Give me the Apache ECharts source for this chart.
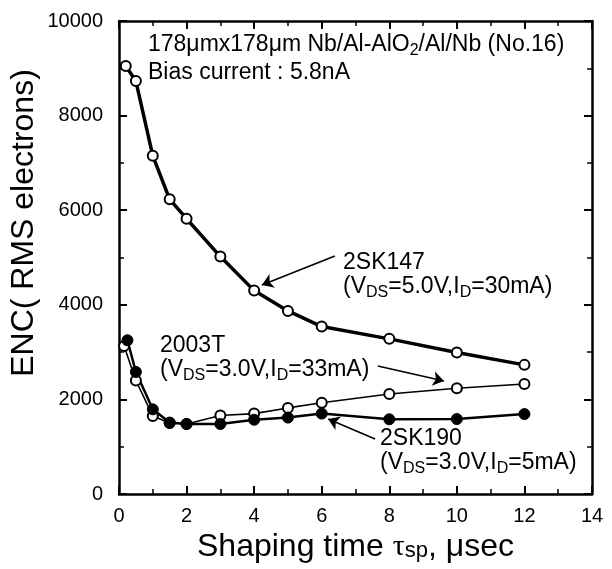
<!DOCTYPE html>
<html><head><meta charset="utf-8">
<script src="https://cdn.jsdelivr.net/npm/echarts@6/dist/echarts.min.js"></script>
<style>html,body{margin:0;padding:0;background:#fff}#c{width:612px;height:569px}</style>
</head><body><div id="c"></div>
<script>
// ---- data ----
const time2SK147 = [0.2, 0.5, 1, 1.5, 2, 3, 4, 5, 6, 8, 10, 12];
const enc2SK147  = [9050, 8730, 7150, 6230, 5820, 5020, 4300, 3870, 3540, 3280, 2990, 2730];
const time2003T  = [0.15, 0.5, 1, 1.5, 2, 3, 4, 5, 6, 8, 10, 12];
const enc2003T   = [3130, 2400, 1650, 1500, 1480, 1660, 1700, 1820, 1930, 2115, 2235, 2325];
const time2SK190 = [0.25, 0.5, 1, 1.5, 2, 3, 4, 5, 6, 8, 10, 12];
const enc2SK190  = [3250, 2580, 1790, 1510, 1480, 1480, 1570, 1615, 1700, 1580, 1585, 1690];
const xRange = [0, 14, 2];      // min, max, interval
const yRange = [0, 10000, 2000];

const FONT = "'Liberation Sans', Arial, Helvetica, sans-serif";
const pairs = (xs, ys) => xs.map((x, i) => [x, ys[i]]);

const chart = echarts.init(document.getElementById('c'), null, {renderer: 'canvas'});

function axisCommon(showLabel, margin) {
  return {
    axisLine: {show: true, onZero: false, lineStyle: {color: '#000', width: 2.5}},
    axisTick: {show: true, inside: true, length: 8, lineStyle: {color: '#000', width: 2}},
    minorTick: {show: true, splitNumber: 2, length: 5, lineStyle: {color: '#000', width: 1.5}},
    splitLine: {show: false},
    axisLabel: {show: showLabel, color: '#000', fontSize: 20, fontFamily: FONT, margin: margin || 8,
                formatter: v => String(v)}
  };
}

const arrowLine = (from, to) => ({
  silent: true, animation: false,
  symbol: ['none', 'arrow'], symbolSize: 11,
  label: {show: false},
  lineStyle: {color: '#000', width: 1.6, type: 'solid'},
  emphasis: {disabled: true},
  data: [[{coord: from}, {coord: to}]]
});

const rich = {
  n: {fontSize: 23, fontFamily: FONT, color: '#000'},
  s: {fontSize: 16, fontFamily: FONT, color: '#000', padding: [12, 0, 0, 0]}
};
const txt = (x, y, text) => ({
  type: 'text', x: x, y: y, silent: true,
  style: {text: text, rich: rich, fill: '#000', font: '23px ' + FONT,
          align: 'left', verticalAlign: 'middle', textAlign: 'left', textVerticalAlign: 'middle'}
});

chart.setOption({
  animation: false,
  backgroundColor: '#fff',
  grid: {left: 119, right: 20, top: 21, bottom: 75, containLabel: false},
  xAxis: [
    Object.assign({type: 'value', min: xRange[0], max: xRange[1], interval: xRange[2], position: 'bottom',
      name: 'Shaping time {t|τ}{s|sp}, μsec', nameLocation: 'middle', nameGap: 36,
      nameTextStyle: {color: '#000', fontSize: 32, fontFamily: FONT,
        rich: {t: {fontSize: 30, fontFamily: "'Liberation Serif', serif", color: '#000'},
               s: {fontSize: 22, fontFamily: FONT, color: '#000', padding: [8, 0, 0, 0]}}}
    }, axisCommon(true, 12)),
    Object.assign({type: 'value', min: xRange[0], max: xRange[1], interval: xRange[2], position: 'top'}, axisCommon(false))
  ],
  yAxis: [
    Object.assign({type: 'value', min: yRange[0], max: yRange[1], interval: yRange[2], position: 'left'},
      axisCommon(true, 16)),
    Object.assign({type: 'value', min: yRange[0], max: yRange[1], interval: yRange[2], position: 'right'}, axisCommon(false))
  ],
  series: [
    {name: '2SK147', type: 'line', data: pairs(time2SK147, enc2SK147),
     lineStyle: {color: '#000', width: 3.5}, symbol: 'circle', symbolSize: 10,
     itemStyle: {color: '#fff', borderColor: '#000', borderWidth: 2},
     markLine: arrowLine([6.39, 5032], [4.23, 4419])},
    {name: '2003T', type: 'line', data: pairs(time2003T, enc2003T),
     lineStyle: {color: '#000', width: 1.6}, symbol: 'circle', symbolSize: 10,
     itemStyle: {color: '#fff', borderColor: '#000', borderWidth: 2},
     markLine: arrowLine([7.66, 2706], [9.62, 2389])},
    {name: '2SK190', type: 'line', data: pairs(time2SK190, enc2SK190),
     lineStyle: {color: '#000', width: 2.5}, symbol: 'circle', symbolSize: 11,
     itemStyle: {color: '#000', borderColor: '#000', borderWidth: 1},
     markLine: arrowLine([7.58, 1163], [6.19, 1586])}
  ],
  graphic: [
    txt(148, 45, '{n|178μmx178μm Nb/Al-AlO}{s|2}{n|/Al/Nb (No.16)}'),
    txt(148, 73, '{n|Bias current : 5.8nA}'),
    txt(343, 263, '{n|2SK147}'),
    txt(343, 287, '{n|(V}{s|DS}{n|=5.0V,I}{s|D}{n|=30mA)}'),
    txt(160, 346, '{n|2003T}'),
    txt(160, 370, '{n|(V}{s|DS}{n|=3.0V,I}{s|D}{n|=33mA)}'),
    txt(380, 439, '{n|2SK190}'),
    txt(380, 463, '{n|(V}{s|DS}{n|=3.0V,I}{s|D}{n|=5mA)}'),
    {type: 'text', x: 24, y: 223, rotation: Math.PI / 2, silent: true,
     style: {text: 'ENC( RMS electrons)', fill: '#000', font: '32px ' + FONT,
             align: 'center', verticalAlign: 'middle', textAlign: 'center', textVerticalAlign: 'middle'}}
  ]
});
</script></body></html>
